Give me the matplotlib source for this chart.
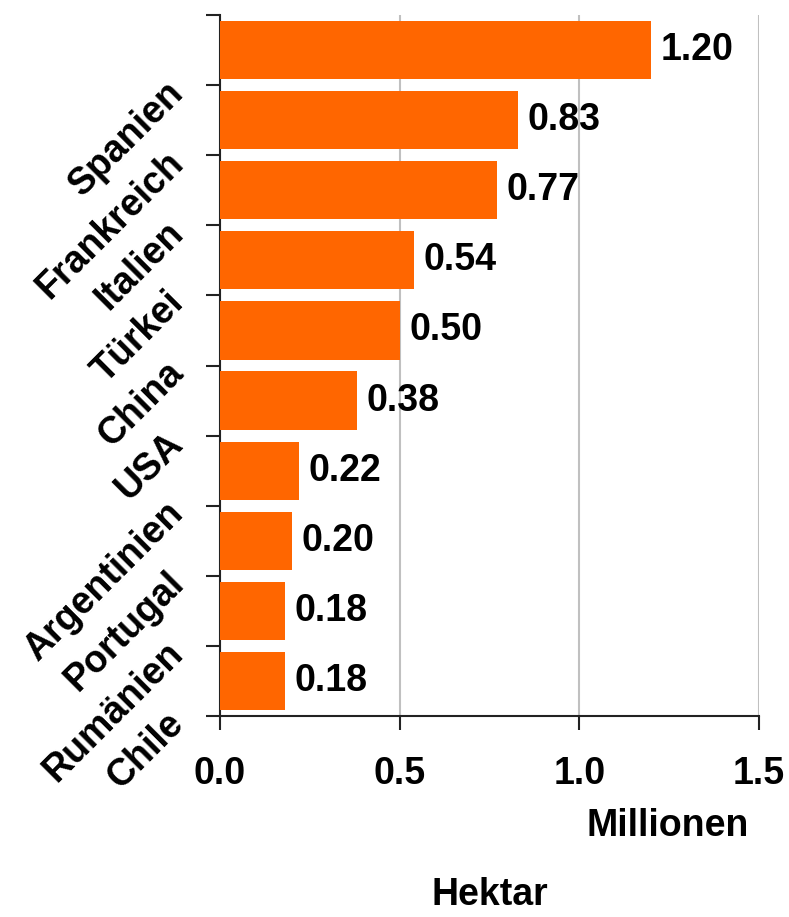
import numpy as np
import matplotlib.pyplot as plt
from matplotlib.transforms import ScaledTranslation, blended_transform_factory

plt.rcParams['font.family'] = ['Liberation Sans', 'DejaVu Sans']
plt.rcParams['font.weight'] = 'bold'

# data (million hectares)
countries = ["Spanien", "Frankreich", "Italien", "Türkei", "China", "USA",
             "Argentinien", "Portugal", "Rumänien", "Chile"]
values = [1.20, 0.83, 0.77, 0.54, 0.50, 0.38, 0.22, 0.20, 0.18, 0.18]
xticks = [0.0, 0.5, 1.0, 1.5]

bar_color = "#FF6600"
axis_color = "#222222"
fs = 27

fig = plt.figure(figsize=(7.89, 9.17), dpi=100)
ax = fig.add_axes([220/789, 1 - 716/917, 539/789, 701/917])

y = np.arange(len(countries))
ax.barh(y, values, height=0.83, color=bar_color, zorder=3)

ax.set_xlim(0, 1.5)
ax.set_ylim(len(countries) - 0.5, -0.5)

# value labels
for yi, v in zip(y, values):
    ax.annotate(f"{v:.2f}", (v, yi), xytext=(7, 0), textcoords="offset points",
                ha="left", va="center", fontsize=fs, fontweight="bold", zorder=4)

# gridlines
ax.set_xticks(xticks)
ax.set_xticklabels([f"{t:.1f}" for t in xticks], fontsize=fs, fontweight="bold")
ax.grid(axis="x", color="#C0C0C0", linewidth=1.5, zorder=0)
ax.tick_params(axis="x", direction="out", length=10, width=1.5,
               color=axis_color, pad=19)

# y ticks at category boundaries
ax.set_yticks(np.arange(len(countries) + 1) - 0.5)
ax.set_yticklabels([])
ax.tick_params(axis="y", direction="out", length=10, width=1.5, color=axis_color)

# rotated category labels
trans = blended_transform_factory(ax.transAxes, ax.transData)
off = ScaledTranslation(-0.42, -0.37, fig.dpi_scale_trans)
for yi, name in zip(y, countries):
    ax.text(0, yi, name, transform=trans + off, rotation=45,
            rotation_mode="anchor", ha="right", va="center",
            fontsize=fs, fontweight="bold", clip_on=False)

for side in ["top", "right"]:
    ax.spines[side].set_visible(False)
for side in ["left", "bottom"]:
    ax.spines[side].set_color(axis_color)
    ax.spines[side].set_linewidth(1.5)

ax.set_xlabel("Hektar", fontsize=fs, fontweight="bold", labelpad=61)
fig.text(668/789, 1 - 826/917, "Millionen", ha="center", va="center",
         fontsize=fs, fontweight="bold")

fig.savefig("out.png", dpi=100)
